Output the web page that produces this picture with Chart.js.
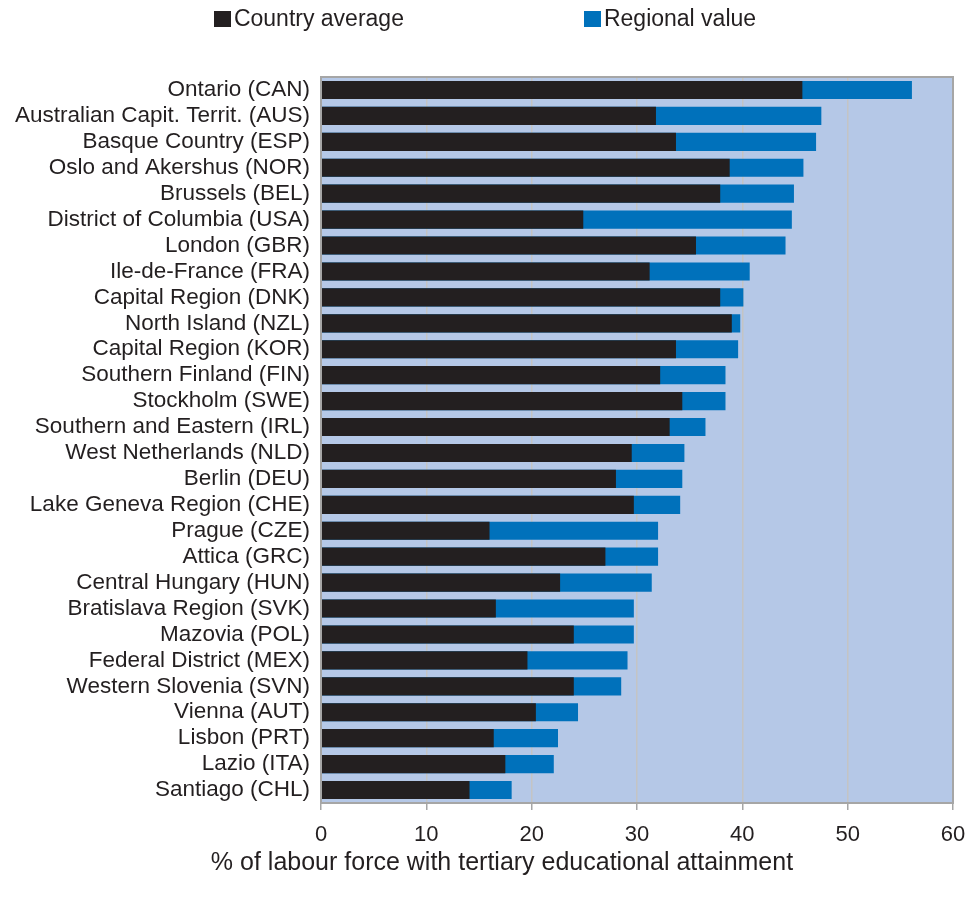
<!DOCTYPE html>
<html>
<head>
<meta charset="utf-8">
<script src="https://cdn.jsdelivr.net/npm/chart.js@4/dist/chart.umd.min.js"></script>
<style>
  html, body { margin: 0; padding: 0; background: #ffffff; }
  #wrap { position: relative; width: 970px; height: 902px; }
  #legend {
    position: absolute; top: 5px; left: 0; width: 970px;
    display: flex; justify-content: center; gap: 180px;
    font-family: "Liberation Sans", Arial, sans-serif; font-size: 23px; color: #231F20;
  }
  #legend .item { display: flex; align-items: center; }
  #legend .box { width: 17px; height: 16px; margin-right: 3px; }
  canvas { position: absolute; top: 0; left: 0; }
</style>
</head>
<body>
<div id="wrap">
  <canvas id="chart" width="970" height="902"></canvas>
  <div id="legend"></div>
</div>
<script>
// Regions and their share of the labour force with tertiary attainment (%)
const regions = [
  "Ontario (CAN)", "Australian Capit. Territ. (AUS)", "Basque Country (ESP)",
  "Oslo and Akershus (NOR)", "Brussels (BEL)", "District of Columbia (USA)",
  "London (GBR)", "Ile-de-France (FRA)", "Capital Region (DNK)", "North Island (NZL)",
  "Capital Region (KOR)", "Southern Finland (FIN)", "Stockholm (SWE)",
  "Southern and Eastern (IRL)", "West Netherlands (NLD)", "Berlin (DEU)",
  "Lake Geneva Region (CHE)", "Prague (CZE)", "Attica (GRC)", "Central Hungary (HUN)",
  "Bratislava Region (SVK)", "Mazovia (POL)", "Federal District (MEX)",
  "Western Slovenia (SVN)", "Vienna (AUT)", "Lisbon (PRT)", "Lazio (ITA)", "Santiago (CHL)"
];
const countryAverage = [
  45.7, 31.8, 33.7, 38.8, 37.9, 24.9, 35.6, 31.2, 37.9, 39.0,
  33.7, 32.2, 34.3, 33.1, 29.5, 28.0, 29.7, 16.0, 27.0, 22.7,
  16.6, 24.0, 19.6, 24.0, 20.4, 16.4, 17.5, 14.1
];
const regionalValue = [
  56.1, 47.5, 47.0, 45.8, 44.9, 44.7, 44.1, 40.7, 40.1, 39.8,
  39.6, 38.4, 38.4, 36.5, 34.5, 34.3, 34.1, 32.0, 32.0, 31.4,
  29.7, 29.7, 29.1, 28.5, 24.4, 22.5, 22.1, 18.1
];
const xTicks = [0, 10, 20, 30, 40, 50, 60];
const axisTitle = "% of labour force with tertiary educational attainment";

const INK = "#231F20";
const BLUE = "#0071BB";
const FONT = "'Liberation Sans', Arial, sans-serif";

// Light blue plot background, grey frame round the plot area, and the x-axis caption
const plotFrame = {
  id: "plotFrame",
  beforeDraw(chart) {
    const { ctx, chartArea: a } = chart;
    ctx.save();
    ctx.fillStyle = "#B5C8E7";
    ctx.fillRect(a.left, a.top, a.right - a.left, a.bottom - a.top);
    ctx.restore();
  },
  afterDraw(chart) {
    const { ctx, chartArea: a } = chart;
    ctx.save();
    ctx.strokeStyle = "#A6A6A6";
    ctx.lineWidth = 2;
    ctx.strokeRect(a.left, a.top, a.right - a.left, a.bottom - a.top);
    ctx.fillStyle = INK;
    ctx.font = "25px " + FONT;
    ctx.textAlign = "center";
    ctx.textBaseline = "middle";
    ctx.fillText(axisTitle, 502, 863);
    ctx.restore();
  }
};

const chart = new Chart(document.getElementById("chart"), {
  type: "bar",
  data: {
    labels: regions,
    datasets: [
      { label: "Country average", data: countryAverage, backgroundColor: INK, grouped: false },
      { label: "Regional value", data: regionalValue, backgroundColor: BLUE, grouped: false }
    ]
  },
  options: {
    responsive: false,
    devicePixelRatio: 1,
    animation: false,
    indexAxis: "y",
    layout: { padding: { top: 77, right: 17, bottom: 0, left: 0 } },
    datasets: { bar: { categoryPercentage: 0.7, barPercentage: 1.0 } },
    plugins: { legend: { display: false }, tooltip: { enabled: false } },
    scales: {
      x: {
        min: xTicks[0], max: xTicks[xTicks.length - 1],
        afterBuildTicks(s) { s.ticks = xTicks.map(v => ({ value: v })); },
        ticks: { color: INK, font: { family: FONT, size: 22 }, padding: 12 },
        grid: { color: "#C4C4C4", lineWidth: 1.5, tickColor: "#A6A6A6", tickLength: 7 },
        border: { display: true, color: "#A6A6A6", width: 2 },
        afterFit(s) { s.height = 99; s.paddingLeft = 0; s.paddingRight = 0; }
      },
      y: {
        grid: { display: false, drawTicks: false },
        border: { display: true, color: "#A6A6A6", width: 2 },
        ticks: { color: INK, font: { family: FONT, size: 22.5 }, padding: 11, autoSkip: false },
        afterFit(s) { s.width = 321; }
      }
    }
  },
  plugins: [plotFrame]
});

// Legend built from the chart's own datasets
const legend = document.getElementById("legend");
chart.data.datasets.forEach(ds => {
  const item = document.createElement("div");
  item.className = "item";
  const box = document.createElement("span");
  box.className = "box";
  box.style.background = ds.backgroundColor;
  const txt = document.createElement("span");
  txt.textContent = ds.label;
  item.appendChild(box);
  item.appendChild(txt);
  legend.appendChild(item);
});
</script>
</body>
</html>
